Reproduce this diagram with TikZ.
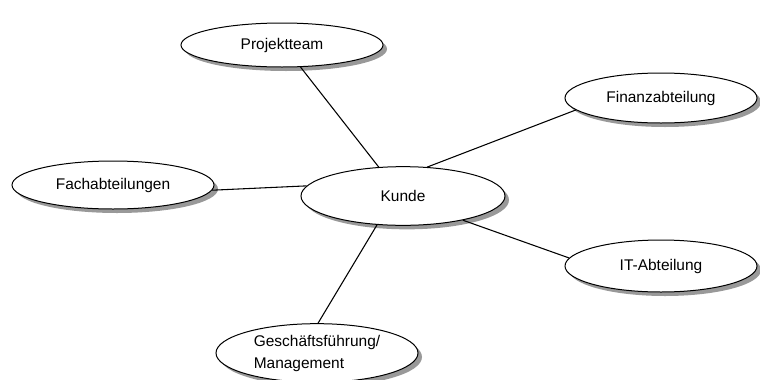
\documentclass[tikz,border=0pt]{standalone}
\usepackage{fontspec}
\setmainfont{Liberation Sans}
\usetikzlibrary{shapes.geometric,shadows}
\begin{document}
\begin{tikzpicture}[x=0.75pt,y=-0.75pt,
  bubble/.style={ellipse,draw=black,line width=0.75pt,fill=white,inner sep=0pt,
    font=\fontsize{11.6}{16.5}\selectfont,
    drop shadow={shadow xshift=3pt,shadow yshift=-3pt,fill=black!40,opacity=1}},
  link/.style={line width=0.8pt}]
\useasboundingbox (0,0) rectangle (760,379);
\node[bubble,minimum width=151.5pt,minimum height=33pt] (proj) at (282,45) {Projektteam};
\node[bubble,minimum width=153pt,minimum height=44pt] (kunde) at (403,196) {Kunde};
\node[bubble,minimum width=144pt,minimum height=37.5pt] (fin) at (661,98) {Finanzabteilung};
\node[bubble,minimum width=151.5pt,minimum height=36pt] (fach) at (113,185) {Fachabteilungen};
\node[bubble,minimum width=144pt,minimum height=39pt] (it) at (661,266) {IT-Abteilung};
\node[bubble,minimum width=151.5pt,minimum height=44pt,align=left] (gf) at (317,353) {Geschäftsführung/\\Management};
\draw[link] (proj.-50) -- (kunde.130);
\draw[link] (kunde.50) -- (fin.-172);
\draw[link] (fach.-3) -- (kunde.174);
\draw[link] (kunde.-22) -- (it.175);
\draw[link] (kunde.-132) -- (gf.88);
\end{tikzpicture}
\end{document}
